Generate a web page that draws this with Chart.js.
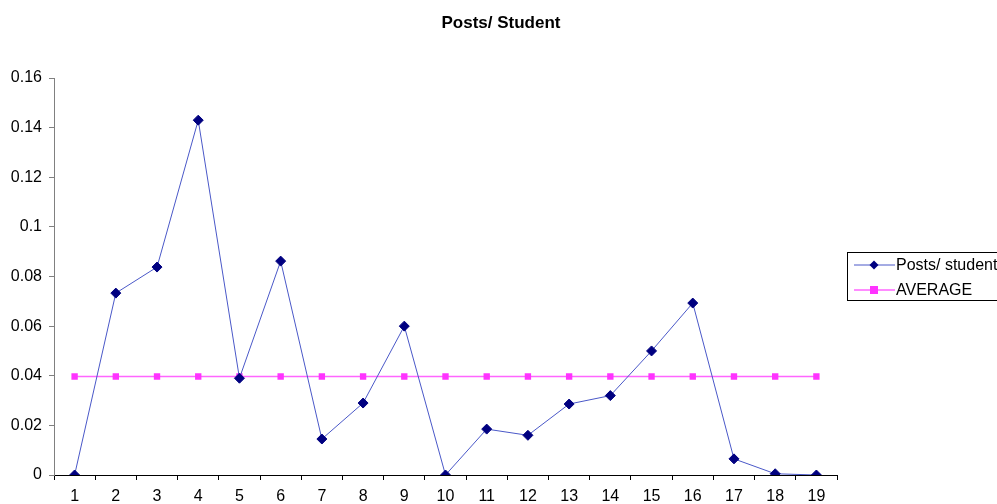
<!DOCTYPE html>
<html>
<head>
<meta charset="utf-8">
<script src="https://cdn.jsdelivr.net/npm/chart.js@4"></script>
<style>
  html, body { margin: 0; padding: 0; background: #fff; }
  #wrap { width: 997px; height: 504px; }
</style>
</head>
<body>
<div id="wrap"><canvas id="postsChart" width="997" height="504"></canvas></div>
<script>
  // Chart data
  const categories = ['1','2','3','4','5','6','7','8','9','10','11','12','13','14','15','16','17','18','19'];
  const postsPerStudent = [0, 0.0733, 0.0838, 0.143, 0.039, 0.0862, 0.0145, 0.029, 0.060, 0, 0.0185, 0.016, 0.0286, 0.032, 0.050, 0.0693, 0.0065, 0.0005, 0];
  const averageValues = [0.0397, 0.0397, 0.0397, 0.0397, 0.0397, 0.0397, 0.0397, 0.0397, 0.0397, 0.0397, 0.0397, 0.0397, 0.0397, 0.0397, 0.0397, 0.0397, 0.0397, 0.0397, 0.0397];
  const yTicks = [0, 0.02, 0.04, 0.06, 0.08, 0.1, 0.12, 0.14, 0.16];
  const chartTitle = 'Posts/ Student';

  const FONT = '"Liberation Sans", Arial, sans-serif';

  // Title centred on the whole picture plus an Excel-style boxed legend
  const excelDecor = {
    id: 'excelDecor',
    afterDraw(chart) {
      const ctx = chart.ctx;
      ctx.save();
      ctx.fillStyle = '#000';
      ctx.font = 'bold 17px ' + FONT;
      ctx.textAlign = 'center';
      ctx.textBaseline = 'middle';
      ctx.fillText(chartTitle, 501, 23);

      const x = 847, y = 252, w = 152, h = 48;
      ctx.strokeStyle = '#000';
      ctx.lineWidth = 1;
      ctx.strokeRect(x + 0.5, y + 0.5, w, h);
      ctx.font = '16px ' + FONT;
      ctx.textAlign = 'left';
      chart.data.datasets.forEach((ds, i) => {
        const ly = y + 13 + i * 25;
        ctx.strokeStyle = ds.borderColor;
        ctx.lineWidth = ds.borderWidth;
        ctx.beginPath();
        ctx.moveTo(x + 7, ly);
        ctx.lineTo(x + 48, ly);
        ctx.stroke();
        ctx.fillStyle = ds.pointBackgroundColor;
        ctx.beginPath();
        if (ds.pointStyle === 'rectRot') {
          ctx.moveTo(x + 27, ly - 4.5);
          ctx.lineTo(x + 31.5, ly);
          ctx.lineTo(x + 27, ly + 4.5);
          ctx.lineTo(x + 22.5, ly);
          ctx.closePath();
        } else {
          ctx.rect(x + 23, ly - 4, 8, 8);
        }
        ctx.fill();
        ctx.fillStyle = '#000';
        ctx.fillText(ds.label, x + 49, ly + 1);
      });
      ctx.restore();
    }
  };

  new Chart(document.getElementById('postsChart').getContext('2d'), {
    type: 'line',
    data: {
      labels: categories,
      datasets: [{
        label: 'Posts/ student',
        data: postsPerStudent,
        borderColor: '#4a58c8',
        borderWidth: 1,
        pointStyle: 'rectRot',
        pointRadius: 5,
        pointBackgroundColor: '#000080',
        pointBorderColor: '#000080',
        pointBorderWidth: 1,
        tension: 0
      }, {
        label: 'AVERAGE',
        data: averageValues,
        borderColor: '#ff66ff',
        borderWidth: 1.5,
        pointStyle: 'rect',
        pointRadius: 4.5,
        pointBackgroundColor: '#ff33ff',
        pointBorderColor: '#ff33ff',
        pointBorderWidth: 0,
        tension: 0
      }]
    },
    options: {
      responsive: false,
      animation: false,
      layout: { padding: { top: 78, right: 160, bottom: 0, left: 0 } },
      plugins: {
        legend: { display: false },
        tooltip: { enabled: false },
        title: { display: false }
      },
      scales: {
        x: {
          offset: true,
          afterFit(axis) { axis.height = 29; },
          grid: {
            offset: true,
            drawOnChartArea: false,
            drawTicks: true,
            tickLength: 5,
            color: '#000'
          },
          border: { display: true, color: '#000', width: 1 },
          ticks: {
            color: '#000',
            font: { family: FONT, size: 16 },
            maxRotation: 0,
            autoSkip: false,
            padding: 7
          }
        },
        y: {
          min: 0,
          max: 0.16,
          afterFit(axis) { axis.width = 54; },
          afterBuildTicks(axis) {
            axis.ticks = yTicks.map(v => ({ value: v }));
          },
          grid: {
            drawOnChartArea: false,
            drawTicks: true,
            tickLength: 5,
            color: '#808080'
          },
          border: { display: true, color: '#808080', width: 1 },
          ticks: {
            color: '#000',
            font: { family: FONT, size: 16 },
            padding: 7,
            callback: v => String(v)
          }
        }
      }
    },
    plugins: [excelDecor]
  });
</script>
</body>
</html>
